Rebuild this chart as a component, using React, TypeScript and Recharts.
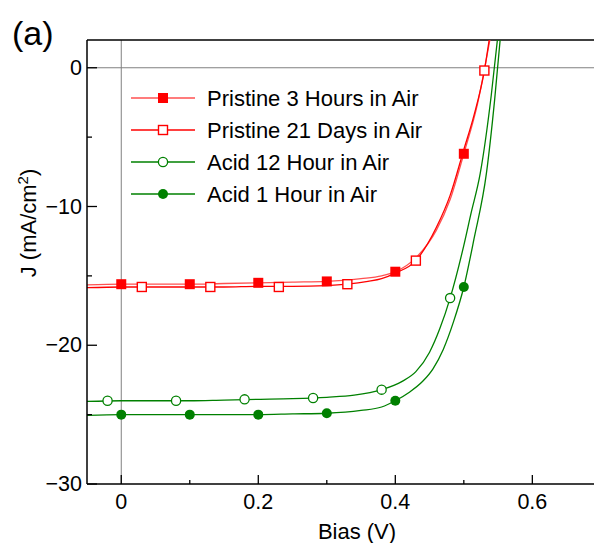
import React from 'react';
import {
  ComposedChart, Line, Scatter, XAxis, YAxis, ReferenceLine,
} from 'recharts';

// J–V curves: [bias (V), J (mA/cm²)]
const pristine3hCurve = [
  [-0.05, -15.65], [0, -15.6], [0.05, -15.6], [0.1, -15.6], [0.15, -15.55], [0.2, -15.5],
  [0.25, -15.45], [0.3, -15.4], [0.35, -15.2], [0.38, -15.0], [0.4, -14.7], [0.43, -13.7],
  [0.46, -11.7], [0.48, -9.5], [0.5, -6.2], [0.52, -2.6], [0.538, 2],
];
const pristine21dCurve = [
  [-0.05, -15.85], [0, -15.8], [0.05, -15.8], [0.1, -15.8], [0.15, -15.8], [0.2, -15.75],
  [0.25, -15.75], [0.3, -15.7], [0.33, -15.6], [0.36, -15.4], [0.38, -15.2], [0.4, -14.8],
  [0.43, -13.9], [0.46, -11.5], [0.48, -9.2], [0.5, -5.9], [0.515, -3.4], [0.53, -0.2], [0.537, 2],
];
const acid12hCurve = [
  [-0.05, -24.05], [0, -24.0], [0.05, -24.0], [0.1, -24.0], [0.15, -23.95], [0.2, -23.9],
  [0.25, -23.85], [0.3, -23.75], [0.34, -23.6], [0.38, -23.2], [0.41, -22.6], [0.43, -21.9],
  [0.45, -20.5], [0.465, -18.8], [0.48, -16.6], [0.5, -12.8], [0.51, -10.6], [0.524, -7.6],
  [0.54, -2.0], [0.549, 2],
];
const acid1hCurve = [
  [-0.05, -25.05], [0, -25.0], [0.05, -25.0], [0.1, -25.0], [0.15, -25.0], [0.2, -25.0],
  [0.25, -24.95], [0.3, -24.9], [0.35, -24.7], [0.38, -24.45], [0.4, -24.0], [0.42, -23.4],
  [0.44, -22.6], [0.455, -21.7], [0.47, -20.3], [0.485, -18.3], [0.5, -15.8], [0.515, -12.3],
  [0.533, -7.6], [0.545, -2.3], [0.553, 2],
];

// marker points
const pristine3hMarks = [[0, -15.6], [0.1, -15.6], [0.2, -15.5], [0.3, -15.4], [0.4, -14.7], [0.5, -6.2]];
const pristine21dMarks = [[0.03, -15.8], [0.13, -15.8], [0.23, -15.8], [0.33, -15.6], [0.43, -13.9], [0.53, -0.2]];
const acid12hMarks = [[-0.02, -24.0], [0.08, -24.0], [0.18, -23.9], [0.28, -23.8], [0.38, -23.2], [0.48, -16.6]];
const acid1hMarks = [[0, -25.0], [0.1, -25.0], [0.2, -25.0], [0.3, -24.9], [0.4, -24.0], [0.5, -15.8]];

const xTicks = [0, 0.1, 0.2, 0.3, 0.4, 0.5, 0.6];
const yTicks = [-30, -25, -20, -15, -10, -5, 0];

const toPts = (arr: number[][]) => arr.map(([x, y]) => ({ x, y }));

const RED = '#ff0000';
const GREEN = '#008000';
const FONT = 'Arial, "Liberation Sans", sans-serif';

type Kind = 'fillSquare' | 'openSquare' | 'openCircle' | 'fillCircle';

const Marker = ({ cx, cy, kind, color }: { cx: number; cy: number; kind: Kind; color: string }) => {
  if (kind === 'fillSquare') return <rect x={cx - 5} y={cy - 5} width={10} height={10} fill={color} />;
  if (kind === 'openSquare')
    return <rect x={cx - 4.5} y={cy - 4.5} width={9} height={9} fill="#fff" stroke={color} strokeWidth={1.4} />;
  if (kind === 'openCircle') return <circle cx={cx} cy={cy} r={4.6} fill="#fff" stroke={color} strokeWidth={1.3} />;
  return <circle cx={cx} cy={cy} r={5} fill={color} />;
};

const series = [
  { name: 'Pristine 3 Hours in Air', curve: pristine3hCurve, marks: pristine3hMarks, color: RED, lineColor: '#ff5050', kind: 'fillSquare' as Kind },
  { name: 'Pristine 21 Days in Air', curve: pristine21dCurve, marks: pristine21dMarks, color: RED, lineColor: RED, kind: 'openSquare' as Kind },
  { name: 'Acid 12 Hour in Air', curve: acid12hCurve, marks: acid12hMarks, color: GREEN, lineColor: GREEN, kind: 'openCircle' as Kind },
  { name: 'Acid 1 Hour in Air', curve: acid1hCurve, marks: acid1hMarks, color: GREEN, lineColor: GREEN, kind: 'fillCircle' as Kind },
];

const fmtY = (v: number) => (v < 0 ? `\u2212${Math.abs(v)}` : `${v}`);

const YTick = ({ x, y, payload }: any) => {
  const major = payload.value % 10 === 0;
  return (
    <g>
      <line x1={x} x2={x + (major ? 10 : 5)} y1={y} y2={y} stroke="#000" strokeWidth={1.3} />
      {major && (
        <text x={x - 5} y={y} textAnchor="end" dominantBaseline="central" fontSize={21.5} fontFamily={FONT} fill="#000">
          {fmtY(payload.value)}
        </text>
      )}
    </g>
  );
};

const XTick = ({ x, y, payload }: any) => {
  const major = Math.round(payload.value * 10) % 2 === 0;
  return (
    <g>
      <line x1={x} x2={x} y1={y} y2={y - (major ? 9 : 4)} stroke="#000" strokeWidth={1.3} />
      {major && (
        <text x={x} y={y + 25} textAnchor="middle" fontSize={21.5} fontFamily={FONT} fill="#000">
          {payload.value === 0 ? '0' : payload.value.toFixed(1)}
        </text>
      )}
    </g>
  );
};

const LegendBox = () => (
  <svg width={340} height={130} style={{ position: 'absolute', left: 128, top: 82 }}>
    {series.map((s, i) => {
      const cy = 16 + i * 32;
      return (
        <g key={s.name}>
          <line x1={3} x2={67} y1={cy} y2={cy} stroke={s.lineColor} strokeWidth={1.4} />
          <Marker cx={35} cy={cy} kind={s.kind} color={s.color} />
          <text x={79} y={cy} dominantBaseline="central" fontSize={22} fontFamily={FONT} fill="#000">
            {s.name}
          </text>
        </g>
      );
    })}
  </svg>
);

const App = () => {
  return (
    <div style={{ position: 'fixed', left: 0, top: 0, width: 594, height: 543, background: '#fff' }}>
      <ComposedChart width={594} height={543} margin={{ top: 40, right: 0, bottom: 0, left: 0 }}>
        <XAxis
          dataKey="x"
          type="number"
          domain={[-0.05, 0.69]}
          ticks={xTicks}
          allowDataOverflow
          height={59}
          tickSize={0}
          tickMargin={0}
          tickLine={false}
          tick={<XTick />}
          axisLine={{ stroke: '#000', strokeWidth: 1.5 }}
          label={{
            content: () => (
              <text x={357} y={539} textAnchor="middle" fontSize={22} fontFamily={FONT} fill="#000">Bias (V)</text>
            ),
          }}
        />
        <YAxis
          dataKey="y"
          type="number"
          domain={[-30, 2]}
          ticks={yTicks}
          allowDataOverflow
          width={87}
          tickSize={0}
          tickMargin={0}
          tickLine={false}
          tick={<YTick />}
          axisLine={{ stroke: '#000', strokeWidth: 1.5 }}
          label={{
            content: () => (
              <text
                x={36}
                y={223}
                transform="rotate(-90, 36, 223)"
                textAnchor="middle"
                fontSize={22}
                fontFamily={FONT}
                fill="#000"
              >
                J (mA/cm<tspan dy={-8} fontSize={15}>2</tspan><tspan dy={8}>)</tspan>
              </text>
            ),
          }}
        />
        <ReferenceLine x={0} stroke="#808080" strokeWidth={1} />
        <ReferenceLine y={0} stroke="#808080" strokeWidth={1} />
        <ReferenceLine y={2} stroke="#000" strokeWidth={1.5} />
        {series.map((s) => (
          <Line
            key={`l-${s.name}`}
            data={toPts(s.curve)}
            dataKey="y"
            type="monotone"
            stroke={s.lineColor}
            strokeWidth={1.3}
            dot={false}
            activeDot={false}
            legendType="none"
            isAnimationActive={false}
          />
        ))}
        {series.map((s) => (
          <Scatter
            key={`s-${s.name}`}
            data={toPts(s.marks)}
            dataKey="y"
            isAnimationActive={false}
            shape={(p: any) => <Marker cx={p.cx} cy={p.cy} kind={s.kind} color={s.color} />}
          />
        ))}
      </ComposedChart>
      <LegendBox />
      <div
        style={{ position: 'absolute', left: 12, top: 13, fontFamily: FONT, fontSize: 34, lineHeight: '40px', color: '#000' }}
      >
        (a)
      </div>
    </div>
  );
};

export default App;
